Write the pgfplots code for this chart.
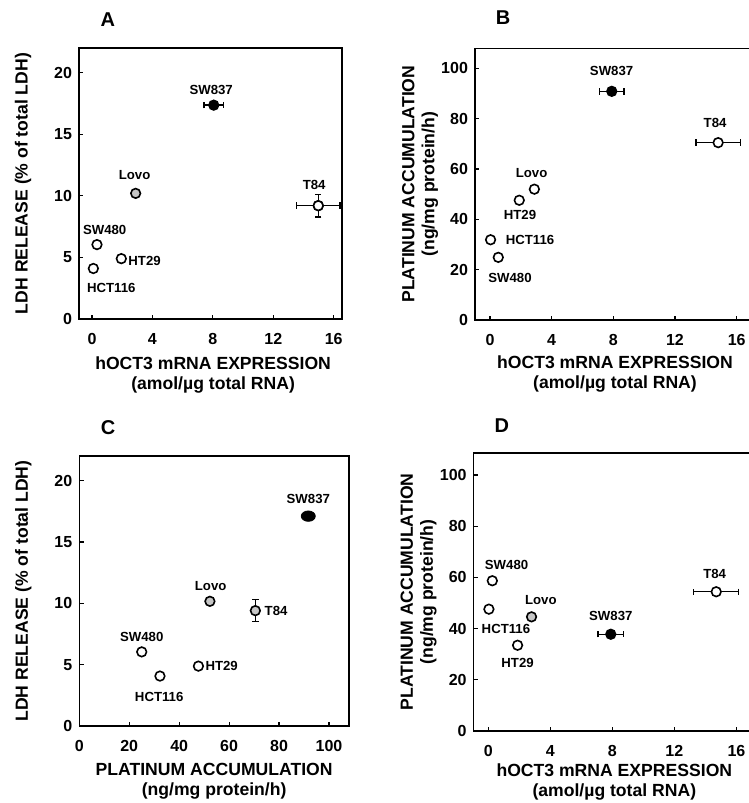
\documentclass[border=0pt]{standalone}
\usepackage{fontspec}
\setmainfont{Liberation Sans}
\usepackage{pgfplots}
\pgfplotsset{compat=1.18}
\newcommand\lblfont{\bfseries\fontsize{8.8}{10}\selectfont}
\newcommand\ptfont{\bfseries\fontsize{6.6}{7}\selectfont}
\newcommand\letfont{\bfseries\fontsize{10}{11}\selectfont}
\pgfplotsset{
  panel/.style={
    scale only axis, clip=false,
    axis line style={line width=0.7pt, black},
    tick align=inside, tick pos=left,
    major tick length=2.2pt,
    every tick/.style={black, line width=0.6pt},
    tick label style={font=\bfseries\fontsize{8}{9}\selectfont, black},
    xticklabel style={yshift=-3.5pt},
    /pgf/number format/assume math mode=true,
    label style={font=\lblfont, align=center, black},
  },
  openpt/.style={only marks, mark=*, mark size=2.4pt, mark options={fill=white, draw=black, line width=0.8pt}},
  graypt/.style={only marks, mark=*, mark size=2.4pt, mark options={fill=gray!45, draw=black, line width=0.8pt}},
  fullpt/.style={only marks, mark=*, mark size=2.4pt, mark options={fill=black, draw=black, line width=0.8pt}},
  errs/.style={error bars/.cd, x dir=both, x explicit,
    error bar style={line width=0.7pt, black},
    error mark=|,
    error mark options={mark size=1.6pt, line width=0.7pt, black}},
  yerrs/.style={error bars/.cd, y dir=both, y explicit,
    error bar style={line width=0.7pt, black},
    error mark=|,
    error mark options={mark size=1.6pt, line width=0.7pt, black}},
}
\begin{document}
\begin{tikzpicture}
\useasboundingbox (0,0) rectangle (374.5pt,-401.5pt);
% ---------------- A
\begin{axis}[panel, at={(39.5pt,-159.5pt)}, anchor=south west,
  width=131.5pt, height=135.5pt,
  xmin=-0.86, xmax=16.55, ymin=0, ymax=22,
  xtick={0,4,8,12,16}, ytick={0,5,10,15,20},
  xlabel={hOCT3 mRNA EXPRESSION\\(amol/µg total RNA)},
  ylabel={LDH RELEASE (\% of total LDH)},
  xlabel style={at={(axis description cs:0.51,-0.207)}, anchor=center},
  ylabel style={at={(axis description cs:-0.213,0.5)}, anchor=center},
]
\addplot[openpt] coordinates {(0.09,4.1) (0.33,6.04) (1.94,4.9)};
\addplot[graypt] coordinates {(2.89,10.2)};
\addplot[fullpt, errs] coordinates {(8.06,17.36) +- (0.64,0)};
\addplot[openpt, errs] coordinates {(14.98,9.2) +- (1.45,0)};
\addplot[openpt, yerrs] coordinates {(14.98,9.2) +- (0,0.92)};
\node[font=\ptfont] at (7.89,18.57) {SW837};
\node[font=\ptfont] at (2.82,11.72) {Lovo};
\node[font=\ptfont] at (14.71,10.89) {T84};
\node[font=\ptfont] at (0.84,7.2) {SW480};
\node[font=\ptfont] at (3.48,4.72) {HT29};
\node[font=\ptfont] at (1.28,2.48) {HCT116};
\node[font=\letfont] at (axis description cs:0.11,1.103) {A};
\end{axis}
% ---------------- B
\begin{axis}[panel, at={(237.5pt,-160pt)}, anchor=south west,
  width=140pt, height=135.85pt,
  xmin=-0.97, xmax=17.19, ymin=0, ymax=108,
  xtick={0,4,8,12,16}, ytick={0,20,40,60,80,100},
  xlabel={hOCT3 mRNA EXPRESSION\\(amol/µg total RNA)},
  ylabel={PLATINUM ACCUMULATION\\(ng/mg protein/h)},
  xlabel style={at={(axis description cs:0.5,-0.2)}, anchor=center},
  ylabel style={at={(axis description cs:-0.196,0.5)}, anchor=center},
]
\addplot[openpt] coordinates {(0.04,31.9) (0.54,24.9) (1.9,47.6) (2.88,52)};
\addplot[fullpt, errs] coordinates {(7.9,90.9) +- (0.79,0)};
\addplot[openpt, errs] coordinates {(14.8,70.5) +- (1.43,0)};
\node[font=\ptfont] at (7.89,98.9) {SW837};
\node[font=\ptfont] at (14.6,78.3) {T84};
\node[font=\ptfont] at (2.7,58.3) {Lovo};
\node[font=\ptfont] at (1.95,41.6) {HT29};
\node[font=\ptfont] at (2.6,31.9) {HCT116};
\node[font=\ptfont] at (1.3,16.7) {SW480};
\node[font=\letfont] at (axis description cs:0.1,1.113) {B};
\end{axis}
% ---------------- C
\begin{axis}[panel, at={(39.65pt,-363pt)}, anchor=south west,
  width=134.85pt, height=135pt,
  xmin=0, xmax=108, ymin=0, ymax=22,
  xtick={0,20,40,60,80,100}, ytick={0,5,10,15,20},
  xlabel={PLATINUM ACCUMULATION\\(ng/mg protein/h)},
  ylabel={LDH RELEASE (\% of total LDH)},
  xlabel style={at={(axis description cs:0.5,-0.204)}, anchor=center},
  ylabel style={at={(axis description cs:-0.208,0.5)}, anchor=center},
]
\addplot[openpt] coordinates {(25,6.04) (32.3,4.07) (47.7,4.88)};
\addplot[graypt] coordinates {(52.3,10.16)};
\addplot[graypt, yerrs] coordinates {(70.5,9.4) +- (0,0.9)};
\addplot[only marks, mark=*, mark size=2.6pt, mark options={fill=black, draw=black, xscale=1.35}] coordinates {(91.7,17.1)};
\node[font=\ptfont] at (91.7,18.5) {SW837};
\node[font=\ptfont] at (52.6,11.4) {Lovo};
\node[font=\ptfont] at (78.8,9.4) {T84};
\node[font=\ptfont] at (25,7.26) {SW480};
\node[font=\ptfont] at (57,4.88) {HT29};
\node[font=\ptfont] at (32,2.38) {HCT116};
\node[font=\letfont] at (axis description cs:0.107,1.104) {C};
\end{axis}
% ---------------- D
\begin{axis}[panel, at={(236.85pt,-365.5pt)}, anchor=south west,
  width=140.65pt, height=139pt,
  xmin=-0.94, xmax=17.2, ymin=0, ymax=108.6,
  xtick={0,4,8,12,16}, ytick={0,20,40,60,80,100},
  xlabel={hOCT3 mRNA EXPRESSION\\(amol/µg total RNA)},
  ylabel={PLATINUM ACCUMULATION\\(ng/mg protein/h)},
  xlabel style={at={(axis description cs:0.5,-0.182)}, anchor=center},
  ylabel style={at={(axis description cs:-0.196,0.5)}, anchor=center},
]
\addplot[openpt] coordinates {(0.26,58.7) (0.04,47.6) (1.89,33.5)};
\addplot[graypt] coordinates {(2.79,44.6)};
\addplot[fullpt, errs] coordinates {(7.9,37.8) +- (0.82,0)};
\addplot[openpt, errs] coordinates {(14.7,54.4) +- (1.45,0)};
\node[font=\ptfont] at (1.18,64.9) {SW480};
\node[font=\ptfont] at (3.39,51.2) {Lovo};
\node[font=\ptfont] at (7.9,45) {SW837};
\node[font=\ptfont] at (1.14,39.8) {HCT116};
\node[font=\ptfont] at (1.89,26.7) {HT29};
\node[font=\ptfont] at (14.6,61.3) {T84};
\node[font=\letfont] at (axis description cs:0.1,1.10) {D};
\end{axis}
\end{tikzpicture}
\end{document}
